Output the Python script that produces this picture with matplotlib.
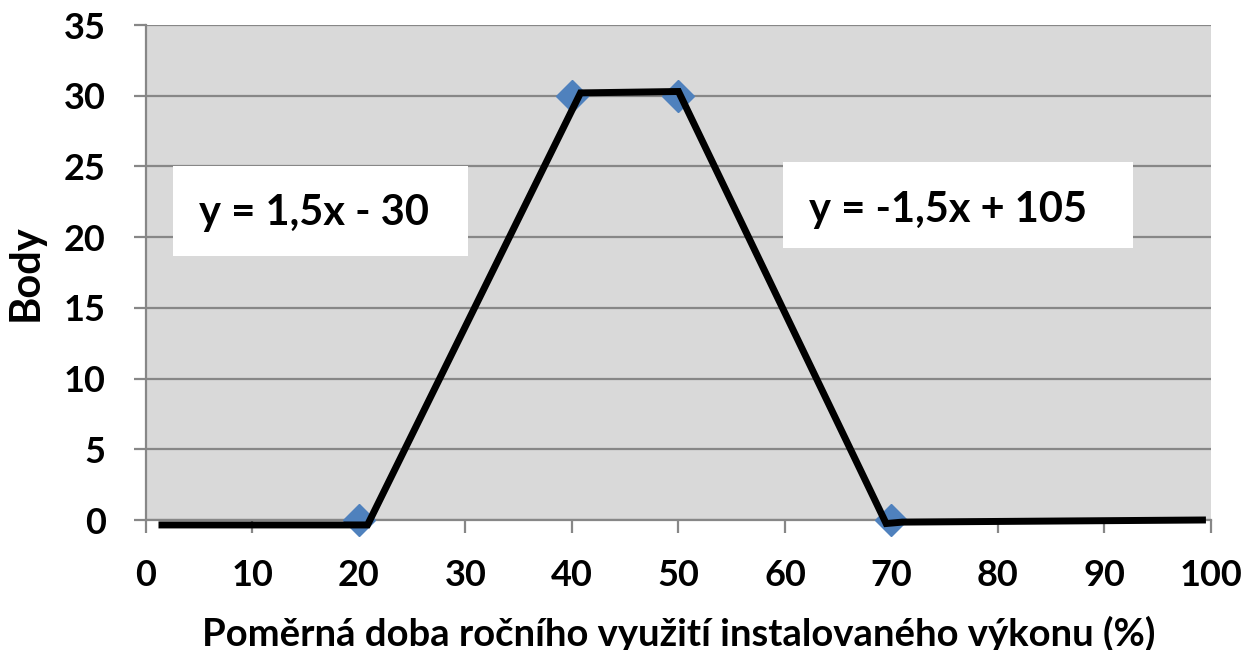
import matplotlib.pyplot as plt
from matplotlib.patches import Rectangle

plt.rcParams['font.family'] = ['Lato', 'DejaVu Sans']
plt.rcParams['font.weight'] = 'bold'

# drawn black line (hand-drawn piecewise function)
line_x = [1.5, 20.8, 40.8, 50.0, 69.5, 71.0, 99.2]
line_y = [-0.35, -0.35, 30.2, 30.3, -0.25, -0.15, 0.0]

# data points (blue diamonds)
pts_x = [20, 40, 50, 70]
pts_y = [0, 30, 30, 0]

x_ticks = [0, 10, 20, 30, 40, 50, 60, 70, 80, 90, 100]
y_ticks = [0, 5, 10, 15, 20, 25, 30, 35]

eq_left = "y = 1,5x - 30"
eq_right = "y = -1,5x + 105"

grid_col = '#878787'

fig = plt.figure(figsize=(12.51, 6.5), dpi=100)
ax = fig.add_axes([0.1167, 0.2, 0.8513, 0.7615])
ax.set_facecolor('#D9D9D9')

ax.set_xlim(0, 100)
ax.set_ylim(0, 35)
ax.set_xticks(x_ticks)
ax.set_yticks(y_ticks)
ax.yaxis.grid(True, color=grid_col, linewidth=1.6)
ax.set_axisbelow(True)
for s in ['top', 'right']:
    ax.spines[s].set_visible(False)
for s in ['left', 'bottom']:
    ax.spines[s].set_color(grid_col)
    ax.spines[s].set_linewidth(1.6)
ax.tick_params(axis='both', direction='out', length=9, width=1.6, color=grid_col,
               labelsize=26)
ax.tick_params(axis='x', pad=19)
ax.tick_params(axis='y', pad=20)

# equation boxes
ax.add_patch(Rectangle((2.5, 18.7), 27.7, 6.3, facecolor='white', edgecolor='none', zorder=2))
ax.add_patch(Rectangle((59.8, 19.2), 32.9, 6.1, facecolor='white', edgecolor='none', zorder=2))
ax.text(15.8, 21.7, eq_left, fontsize=30, fontweight='bold', ha='center', va='center', zorder=3)
ax.text(75.3, 21.9, eq_right, fontsize=30, fontweight='bold', ha='center', va='center', zorder=3)

ax.plot(pts_x, pts_y, linestyle='none', marker='D', markersize=16, color='#4F81BD',
        clip_on=False, zorder=4)
ax.plot(line_x, line_y, color='black', linewidth=5, solid_joinstyle='miter',
        clip_on=False, zorder=5)

ax.set_xlabel("Poměrná doba ročního využití instalovaného výkonu (%)", fontsize=27.5,
              fontweight='bold', labelpad=17)
ax.set_ylabel("Body", fontsize=30, fontweight='bold', labelpad=14)

fig.savefig('out.png', dpi=100)
